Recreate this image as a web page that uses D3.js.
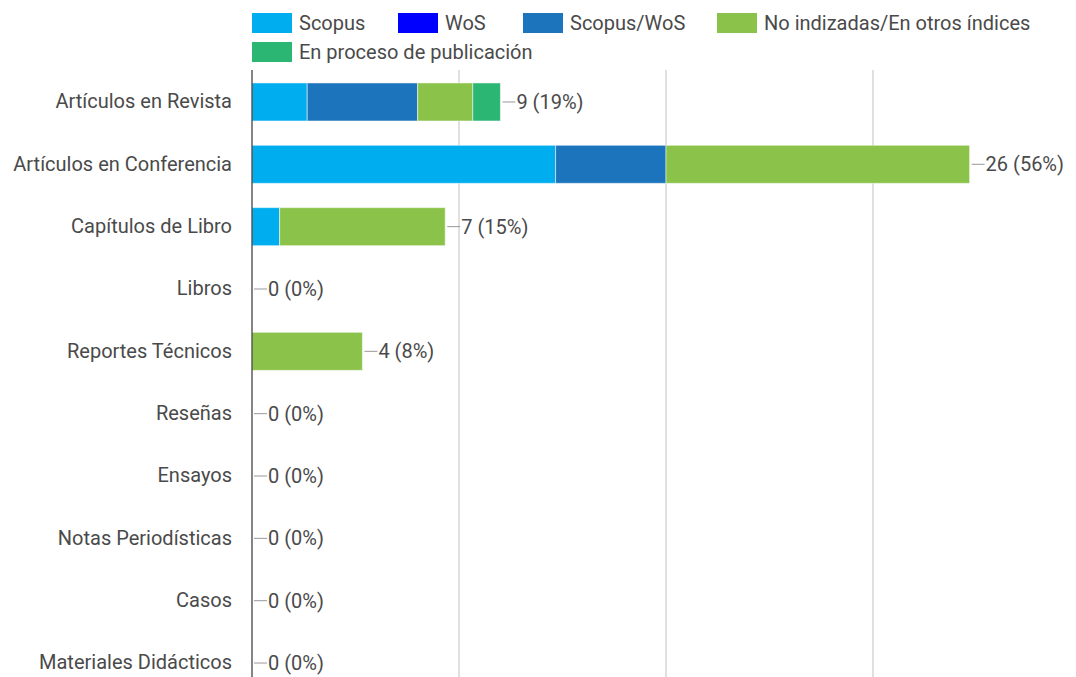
<!DOCTYPE html>
<html>
<head>
<meta charset="utf-8">
<script src="https://cdn.jsdelivr.net/npm/d3@7"></script>
<style>
  body { margin: 0; background: #fff; }
  svg { font-family: Roboto, Arial, sans-serif; }
</style>
</head>
<body>
<div id="chart"></div>
<script>

// categories (rows) and series (stack order)
const categories = [
	"Artículos en Revista",
	"Artículos en Conferencia",
	"Capítulos de Libro",
	"Libros",
	"Reportes Técnicos",
	"Reseñas",
	"Ensayos",
	"Notas Periodísticas",
	"Casos",
	"Materiales Didácticos"
];
const series = ["Scopus", "WoS", "Scopus/WoS", "No indizadas/En otros índices", "En proceso de publicación"];
const seriesColors = ["#00adef", "#0000ff", "#1c75bc", "#8bc34a", "#2bb673"];

// values per series, one per category
const scopus      = [2, 11, 1, 0, 0, 0, 0, 0, 0, 0];
const wos         = [0, 0, 0, 0, 0, 0, 0, 0, 0, 0];
const scopusWos   = [4, 4, 0, 0, 0, 0, 0, 0, 0, 0];
const noIndizadas = [2, 11, 6, 0, 4, 0, 0, 0, 0, 0];
const enProceso   = [1, 0, 0, 0, 0, 0, 0, 0, 0, 0];

const gridTicks = [7.5, 15, 22.5];

const seriesValues = [scopus, wos, scopusWos, noIndizadas, enProceso];

// build rows for d3.stack
const rows = categories.map((c, i) => {
	const r = { cat: c };
	series.forEach((s, j) => r[s] = seriesValues[j][i]);
	return r;
});
const totals = rows.map((r) => d3.sum(series, (s) => r[s]));
const grandTotal = d3.sum(totals);

const width = 1076;
const height = 677;
const left = 252;
const fontSize = 20;
const textColor = "#4a4a4a";

const xScale = d3.scaleLinear()
	.domain([0, 30])
	.range([left, 1080]);

const yScale = d3.scaleBand()
	.domain(categories)
	.range([70.8, 694.2])
	.paddingInner(0.39)
	.paddingOuter(0.195);

const colors = d3.scaleOrdinal().domain(series).range(seriesColors);

const svg = d3.select("#chart")
	.append("svg")
	.attr("width", width)
	.attr("height", height);

// gridlines
svg.append("g").selectAll("line").data(gridTicks).enter()
	.append("line")
	.attr("x1", (d) => xScale(d))
	.attr("x2", (d) => xScale(d))
	.attr("y1", 70)
	.attr("y2", height)
	.attr("stroke", "#e0e0e0")
	.attr("stroke-width", 2);

// stacked bars
const stacked = d3.stack().keys(series)(rows);

svg.append("g").selectAll("g").data(stacked).enter()
	.append("g")
	.attr("fill", (d) => colors(d.key))
	.selectAll("rect").data((d) => d.filter((p) => p[1] > p[0])).enter()
	.append("rect")
		.attr("x", (d) => xScale(d[0]))
		.attr("y", (d) => yScale(d.data.cat))
		.attr("width", (d) => xScale(d[1]) - xScale(d[0]))
		.attr("height", yScale.bandwidth())
		.attr("stroke", "#ffffff")
		.attr("stroke-opacity", 0.5)
		.attr("stroke-width", 1);

// category labels
svg.append("g")
	.attr("transform", `translate(${left}, 0)`)
	.call(d3.axisLeft(yScale).tickSize(0).tickPadding(20))
	.call((g) => g.select(".domain").remove())
	.call((g) => g.selectAll("text")
		.attr("font-family", "Roboto, Arial, sans-serif")
		.attr("font-size", fontSize)
		.attr("fill", textColor));

// vertical axis line
svg.append("line")
	.attr("x1", left)
	.attr("x2", left)
	.attr("y1", 70)
	.attr("y2", height)
	.attr("stroke", "#333")
	.attr("stroke-width", 1.2);

// total labels with leader line
const ann = svg.append("g").selectAll("g").data(rows).enter()
	.append("g")
	.attr("transform", (d, i) =>
		`translate(${xScale(totals[i])}, ${yScale(d.cat) + yScale.bandwidth() / 2})`);

ann.append("line")
	.attr("x1", 2)
	.attr("x2", 15)
	.attr("stroke", "#999")
	.attr("stroke-width", 1);

ann.append("text")
	.attr("x", 16)
	.attr("dy", "0.35em")
	.attr("font-size", fontSize)
	.attr("fill", textColor)
	.text((d, i) => `${totals[i]} (${Math.floor(totals[i] / grandTotal * 100)}%)`);

// legend
const legendPos = [[252, 23], [398, 23], [523, 23], [717, 23], [252, 52]];
const legend = svg.append("g").selectAll("g").data(series).enter()
	.append("g")
	.attr("transform", (d, i) => `translate(${legendPos[i][0]}, ${legendPos[i][1]})`);

legend.append("rect")
	.attr("x", 0)
	.attr("y", -10)
	.attr("width", 40)
	.attr("height", 20)
	.attr("fill", (d) => colors(d));

legend.append("text")
	.attr("x", 47)
	.attr("dy", "0.35em")
	.attr("font-size", fontSize)
	.attr("fill", textColor)
	.text((d) => d);

</script>
</body>
</html>
